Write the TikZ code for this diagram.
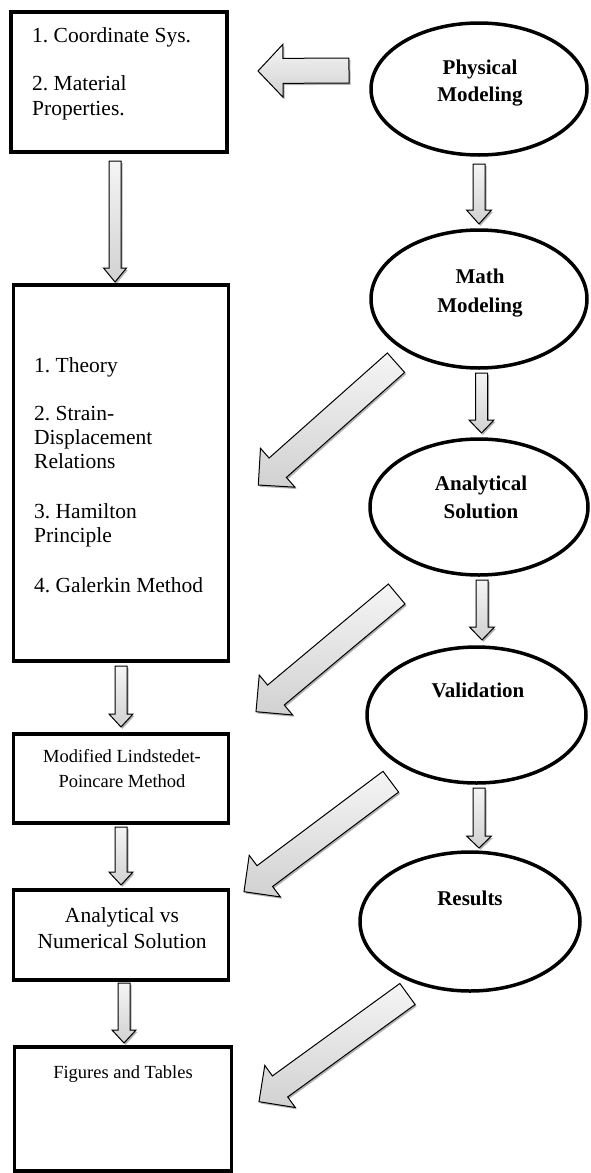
\documentclass[tikz,border=0pt]{standalone}
\usepackage{fontspec}
\setmainfont{Liberation Serif}
\usetikzlibrary{calc,shapes.geometric,shadows}
\frenchspacing
\tikzset{
  box/.style={draw, rectangle, line width=3.5pt, inner sep=0pt},
  oval/.style={draw, ellipse, line width=3.5pt, inner sep=0pt},
  txt/.style={inner sep=0pt, font=\fontsize{21.5}{24}\selectfont},
  stxt/.style={inner sep=0pt, font=\fontsize{18.5}{22}\selectfont},
  btxt/.style={inner sep=0pt, font=\bfseries\fontsize{21}{24}\selectfont},
  blk/.style={draw=black, line width=1pt, line join=miter, top color=gray!8, bottom color=gray!36,
    drop shadow={shadow xshift=1.5pt, shadow yshift=-1.8pt, opacity=0.3, fill=black}},
}
% #1 tail, #2 tip, #3 shaft half width, #4 head half width, #5 head length
\newcommand\blockarrow[5]{%
  \coordinate (hb) at ($(#2)!#5!(#1)$);
  \path[blk] ($(#1)!#3!90:(#2)$) -- ($(hb)!#3!-90:(#1)$) -- ($(hb)!#4!-90:(#1)$) -- (#2)
    -- ($(hb)!#4!90:(#1)$) -- ($(hb)!#3!90:(#1)$) -- ($(#1)!#3!-90:(#2)$) -- cycle;
}
\begin{document}
\begin{tikzpicture}[x=1pt,y=-1pt]
\useasboundingbox (0,0) rectangle (590,1173);

% boxes
\node[box, minimum width=216pt, minimum height=140pt] (b1) at (119,82) {};
\node[box, minimum width=215pt, minimum height=376pt] (b2) at (121,473) {};
\node[box, minimum width=215pt, minimum height=89pt] (b3) at (121,778.5) {};
\node[box, minimum width=215pt, minimum height=90pt] (b4) at (121,935) {};
\node[box, minimum width=217pt, minimum height=124pt] (b5) at (123,1109) {};

% ellipses
\node[oval, minimum width=216pt, minimum height=132pt] (e1) at (479,89) {};
\node[oval, minimum width=216pt, minimum height=138pt] (e2) at (479,299) {};
\node[oval, minimum width=218pt, minimum height=136pt] (e3) at (479,507) {};
\node[oval, minimum width=219pt, minimum height=136pt] (e4) at (476.5,715) {};
\node[oval, minimum width=220pt, minimum height=139pt] (e5) at (470,921.5) {};

% box texts
\node[txt, anchor=base west] (t11) at (32,42) {1. Coordinate Sys.};
\node[txt, anchor=base west] (t12) at (32,90) {2. Material};
\node[txt, anchor=base west] (t13) at (32,115) {Properties.};

\node[txt, anchor=base west] (t21) at (34,372) {1. Theory};
\node[txt, anchor=base west] (t22) at (34,420) {2. Strain-};
\node[txt, anchor=base west] (t23) at (34,444) {Displacement};
\node[txt, anchor=base west] (t24) at (34,468) {Relations};
\node[txt, anchor=base west] (t25) at (34,518) {3. Hamilton};
\node[txt, anchor=base west] (t26) at (34,542) {Principle};
\node[txt, anchor=base west] (t27) at (34,592) {4. Galerkin Method};

\node[stxt, anchor=base] (t31) at (122,762) {Modified Lindstedet-};
\node[stxt, anchor=base] (t32) at (122,787) {Poincare Method};

\node[txt, anchor=base] (t41) at (122,922) {Analytical vs};
\node[txt, anchor=base] (t42) at (122,948) {Numerical Solution};

\node[stxt, anchor=base] (t51) at (123,1078) {Figures and Tables};

% ellipse texts
\node[btxt, anchor=base] (p1) at (480,74) {Physical};
\node[btxt, anchor=base] (p2) at (480,101) {Modeling};
\node[btxt, anchor=base] (m1) at (480,283) {Math};
\node[btxt, anchor=base] (m2) at (480,312) {Modeling};
\node[btxt, anchor=base] (a1) at (481,490) {Analytical};
\node[btxt, anchor=base] (a2) at (481,518) {Solution};
\node[btxt, anchor=base] (v1) at (478,697) {Validation};
\node[btxt, anchor=base] (r1) at (470,905) {Results};

% arrow end points
\coordinate (L0t) at (349,70.5);  \coordinate (L0h) at (258,71);
\coordinate (V1t) at (479,164);   \coordinate (V1h) at (479,224);
\coordinate (V2t) at (481.5,373); \coordinate (V2h) at (481.5,433);
\coordinate (V3t) at (482,580);   \coordinate (V3h) at (482,640);
\coordinate (V4t) at (479,788);   \coordinate (V4h) at (479,848);
\coordinate (B1t) at (115,161);   \coordinate (B1h) at (115,282);
\coordinate (B2t) at (121,666);   \coordinate (B2h) at (121,727);
\coordinate (B3t) at (121,827);   \coordinate (B3h) at (121,885);
\coordinate (B4t) at (124,983);   \coordinate (B4h) at (124,1043);
\coordinate (D1t) at (396,362.7); \coordinate (D1h) at (258.3,485);
\coordinate (D2t) at (396.7,594); \coordinate (D2h) at (256,711.7);
\coordinate (D3t) at (390.8,781.7); \coordinate (D3h) at (244,891.7);
\coordinate (D4t) at (407.5,994); \coordinate (D4h) at (259,1101.7);

\blockarrow{L0t}{L0h}{12.5pt}{26.5pt}{25pt}
\blockarrow{V1t}{V1h}{6pt}{12.5pt}{14pt}
\blockarrow{V2t}{V2h}{6pt}{12.5pt}{13pt}
\blockarrow{V3t}{V3h}{6pt}{12.5pt}{13pt}
\blockarrow{V4t}{V4h}{6pt}{12.5pt}{12pt}
\blockarrow{B1t}{B1h}{6pt}{11.5pt}{14pt}
\blockarrow{B2t}{B2h}{6pt}{12pt}{13pt}
\blockarrow{B3t}{B3h}{6pt}{12pt}{13pt}
\blockarrow{B4t}{B4h}{6pt}{12pt}{13pt}
\blockarrow{D1t}{D1h}{13pt}{26pt}{26pt}
\blockarrow{D2t}{D2h}{13pt}{26pt}{26pt}
\blockarrow{D3t}{D3h}{13pt}{26pt}{26pt}
\blockarrow{D4t}{D4h}{13pt}{26pt}{26pt}
\end{tikzpicture}
\end{document}
